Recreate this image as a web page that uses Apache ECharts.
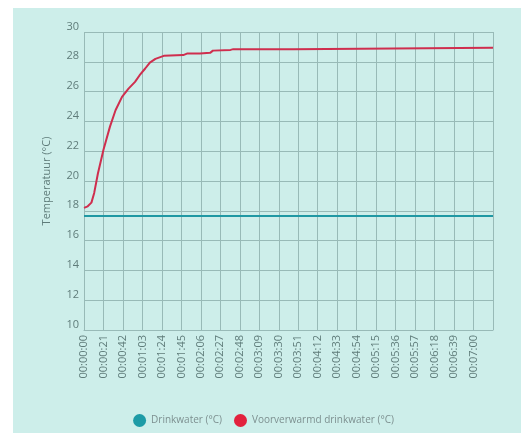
<!DOCTYPE html>
<html>
<head>
<meta charset="utf-8">
<script src="https://cdn.jsdelivr.net/npm/echarts@6/dist/echarts.min.js"></script>
<style>html,body{margin:0;padding:0;background:#fff}#c{width:527px;height:436px}</style>
</head>
<body>
<div id="c"></div>
<script>
// Time in seconds
var redTime = [0, 4, 8, 11, 15, 21, 28, 34, 41, 48, 55, 60, 66, 71, 77, 86, 107, 111, 125, 136, 139, 158, 161, 226, 228, 441];
var redTemp = [18.2, 18.3, 18.55, 19.2, 20.5, 22.1, 23.65, 24.75, 25.65, 26.2, 26.65, 27.1, 27.55, 27.95, 28.2, 28.4, 28.45, 28.55, 28.55, 28.6, 28.75, 28.8, 28.85, 28.85, 28.95, 28.95];
var tealTime = [0, 441];
var tealTemp = [17.65, 17.65];
var seriesNames = ['Drinkwater (°C)', 'Voorverwarmd drinkwater (°C)'];
var yName = 'Temperatuur (°C)';

function pad(n){ return (n < 10 ? '0' : '') + n; }
function fmt(s){ var h = Math.floor(s/3600), m = Math.floor((s%3600)/60), sec = s%60; return pad(h)+':'+pad(m)+':'+pad(sec); }
function zip(a,b){ return a.map(function(v,i){ return [v, b[i]]; }); }

var chart = echarts.init(document.getElementById('c'), null, {renderer:'canvas'});
var grid = '#98bab7';
var font = "'Open Sans', sans-serif";
chart.setOption({
  backgroundColor: '#ffffff',
  animation: false,
  graphic: [{ type: 'rect', z: -10, shape: { x: 13, y: 8, width: 508, height: 425 }, style: { fill: '#cdeeea' } }],
  grid: { left: 84, right: 34, top: 32, bottom: 106 },
  xAxis: {
    type: 'value', min: 0, max: 441, interval: 21,
    axisLine: { show: true, lineStyle: { color: grid } },
    axisTick: { show: false },
    splitLine: { show: true, lineStyle: { color: grid, width: 1 } },
    axisLabel: { rotate: 90, margin: 5, color: '#5f7c7a', fontSize: 11, fontFamily: font, showMaxLabel: false,
      formatter: function(v){ return v > 420 ? '' : fmt(v); } }
  },
  yAxis: {
    type: 'value', min: 10, max: 30, interval: 2,
    name: yName, nameLocation: 'middle', nameGap: 32,
    nameTextStyle: { color: '#5f7c7a', fontSize: 11, fontFamily: font },
    axisLine: { show: false },
    axisTick: { show: false },
    splitLine: { show: true, lineStyle: { color: grid, width: 1 } },
    axisLabel: { margin: 5, color: '#5f7c7a', fontSize: 11, fontFamily: font, verticalAlign: 'bottom' }
  },
  legend: {
    bottom: 4, left: 'center', icon: 'circle', itemWidth: 13, itemHeight: 13, itemGap: 12,
    textStyle: { color: '#7d9090', fontSize: 10, fontFamily: font },
    data: seriesNames
  },
  series: [
    { name: seriesNames[0], type: 'line', showSymbol: false, data: zip(tealTime, tealTemp),
      itemStyle: { color: '#1d9ba6' }, lineStyle: { color: '#1f98a3', width: 2 } },
    { name: seriesNames[1], type: 'line', showSymbol: false, data: zip(redTime, redTemp),
      itemStyle: { color: '#e2213d' }, lineStyle: { color: '#cf2e4e', width: 2 } }
  ]
});
</script>
</body>
</html>
